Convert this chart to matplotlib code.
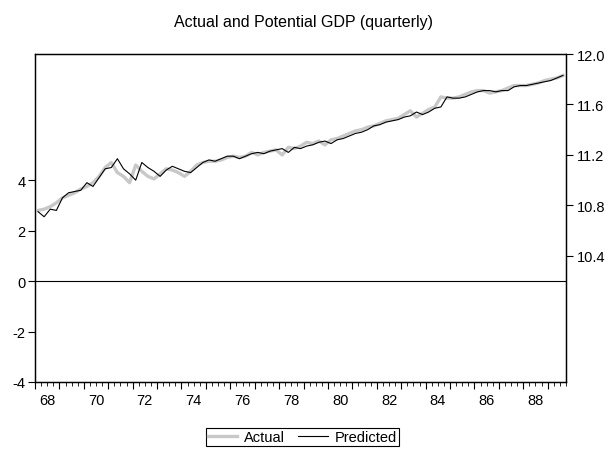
import matplotlib
matplotlib.use("Agg")
import matplotlib.pyplot as plt
from matplotlib.ticker import MultipleLocator

plt.rcParams["font.family"] = ["Liberation Sans", "DejaVu Sans"]

# quarterly observations, 1968Q1 .. 1989Q3
start_year = 1968
actual = [10.76, 10.77, 10.79, 10.82, 10.86, 10.88, 10.90, 10.93, 10.95, 10.98,
          11.03, 11.10, 11.14, 11.06, 11.03, 10.98, 11.12, 11.07, 11.03, 11.01,
          11.05, 11.09, 11.08, 11.06, 11.03, 11.07, 11.12, 11.14, 11.15, 11.15,
          11.16, 11.18, 11.19, 11.18, 11.19, 11.22, 11.20, 11.22, 11.23, 11.24,
          11.20, 11.26, 11.25, 11.27, 11.30, 11.29, 11.31, 11.28, 11.32, 11.33,
          11.35, 11.37, 11.39, 11.40, 11.42, 11.43, 11.45, 11.47, 11.48, 11.49,
          11.52, 11.55, 11.50, 11.53, 11.56, 11.58, 11.66, 11.65, 11.65, 11.66,
          11.68, 11.70, 11.71, 11.71, 11.69, 11.70, 11.71, 11.73, 11.75, 11.75,
          11.75, 11.76, 11.77, 11.79, 11.80, 11.81, 11.83]
predicted = [10.75, 10.71, 10.77, 10.76, 10.86, 10.90, 10.91, 10.92, 10.98, 10.95,
             11.02, 11.09, 11.10, 11.17, 11.09, 11.05, 11.00, 11.14, 11.10, 11.07,
             11.03, 11.08, 11.11, 11.09, 11.07, 11.06, 11.10, 11.14, 11.16, 11.15,
             11.17, 11.19, 11.19, 11.17, 11.19, 11.21, 11.22, 11.21, 11.23, 11.24,
             11.25, 11.22, 11.26, 11.25, 11.27, 11.28, 11.30, 11.31, 11.29, 11.32,
             11.33, 11.35, 11.37, 11.38, 11.40, 11.43, 11.44, 11.46, 11.47, 11.48,
             11.50, 11.51, 11.54, 11.52, 11.54, 11.57, 11.58, 11.66, 11.65, 11.65,
             11.66, 11.68, 11.70, 11.71, 11.71, 11.70, 11.71, 11.71, 11.74, 11.75,
             11.75, 11.76, 11.77, 11.78, 11.79, 11.81, 11.83]
year_labels = ["68", "70", "72", "74", "76", "78", "80", "82", "84", "86", "88"]
left_ticks = [-4, -2, 0, 2, 4]
right_ticks = [10.4, 10.8, 11.2, 11.6, 12.0]

# plot each quarter at its middle
t = [start_year + 0.125 + 0.25 * i for i in range(len(actual))]

fig = plt.figure(figsize=(6.11, 4.52), dpi=100)
ax = fig.add_axes([35 / 611, 69 / 452, 531 / 611, 328 / 452])
ax2 = ax.twinx()

# residual axis (left) only carries the zero line
ax.axhline(0, color="black", lw=0.8)
ax.set_ylim(-4, 9)
ax.set_yticks(left_ticks)
ax.set_yticklabels([str(v) for v in left_ticks])

ax2.plot(t, actual, color="#c8c8c8", lw=2.4, label="Actual")
ax2.plot(t, predicted, color="black", lw=0.8, label="Predicted")
ax2.set_ylim(9.4, 12.0)
ax2.set_yticks(right_ticks)
ax2.set_yticklabels([f"{v:.1f}" for v in right_ticks])

ax.set_xlim(1968, 1989.75)
label_pos = [1900 + int(s) + 0.5 for s in year_labels]
ax.set_xticks(label_pos)
ax.set_xticklabels(year_labels)
ax.tick_params(axis="x", length=0, pad=8, labelsize=10.5)
ax.tick_params(axis="y", direction="out", length=5, width=0.8, labelsize=10.5, pad=2)
ax2.tick_params(axis="y", direction="out", length=5, width=0.8, labelsize=10.5, pad=3)

# year / quarter tick marks on the bottom axis
sec = ax.secondary_xaxis("bottom")
sec.xaxis.set_major_locator(MultipleLocator(1))
sec.xaxis.set_minor_locator(MultipleLocator(0.25))
sec.tick_params(which="major", length=5, width=0.8, direction="out", labelbottom=False)
sec.tick_params(which="minor", length=3, width=0.6, direction="out")
sec.spines["bottom"].set_visible(False)

for a in (ax, ax2):
    for s in a.spines.values():
        s.set_linewidth(0.9)
        s.set_color("black")

fig.text(0.497, 1 - 22 / 452, "Actual and Potential GDP (quarterly)",
         ha="center", va="center", fontsize=11.5)

h, l = ax2.get_legend_handles_labels()
leg = fig.legend(h, l, loc="upper center", bbox_to_anchor=(0.495, 1 - 429 / 452),
                 ncol=2, fontsize=10.5, fancybox=False, framealpha=1,
                 edgecolor="black", handlelength=2.0, columnspacing=0.9,
                 borderpad=0.12, handletextpad=0.5, borderaxespad=0)
leg.get_frame().set_linewidth(0.8)

fig.savefig("out.png", dpi=100)
